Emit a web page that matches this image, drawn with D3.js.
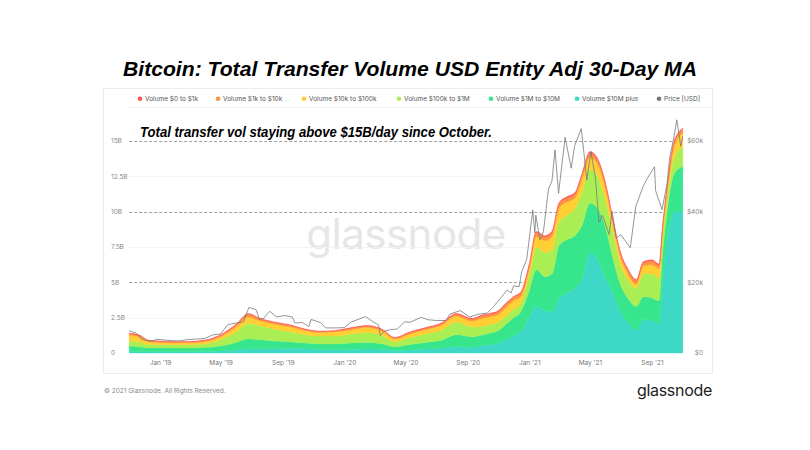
<!DOCTYPE html>
<html>
<head>
<meta charset="utf-8">
<script src="https://cdn.jsdelivr.net/npm/d3@7"></script>
<style>
body { margin: 0; background: #fff; }
text { font-family: Inter, "Noto Sans", sans-serif; }
</style>
</head>
<body>
<svg id="chart" width="810" height="450"></svg>
<script>
// volume data, billions USD (30-day MA)
var dates = ["2018-11-01","2018-11-20","2018-12-10","2019-01-01","2019-02-01","2019-03-01","2019-04-01","2019-05-01","2019-06-01","2019-06-25",
  "2019-07-15","2019-08-15","2019-09-15","2019-10-15","2019-11-15","2019-12-15","2020-01-15","2020-02-15","2020-03-15","2020-04-10",
  "2020-05-10","2020-06-10","2020-07-10","2020-08-10","2020-09-10","2020-10-01","2020-10-15","2020-11-01","2020-11-15","2020-12-01",
  "2020-12-15","2021-01-01","2021-01-15","2021-02-01","2021-02-15","2021-03-01","2021-03-15","2021-04-01","2021-04-15","2021-05-01",
  "2021-05-15","2021-06-01","2021-06-15","2021-07-01","2021-07-15","2021-08-01","2021-08-15","2021-09-01","2021-09-15","2021-09-22",
  "2021-10-01","2021-10-15","2021-11-01"];

var vol10Mplus = [.10,.10,.10,.12,.10,.10,.12,.15,.22,.30, .30,.30,.33,.30,.25,.22,.25,.28,.25,.18,
  .22,.28,.33,.45,.40,.55,.60,.70,.90,1.2, 1.5,2.5,3.3,3.0,2.9,3.9,4.2,4.6,5.2,7.1,
  6.7,5.3,4.3,2.9,2.2,1.6,2.4,2.3,2.1,5.0, 8.0,10.0,10.0];
var vol1Mto10M = [.40,.35,.25,.26,.25,.25,.28,.35,.53,.70, .65,.55,.47,.40,.40,.43,.45,.47,.40,.27,
  .38,.47,.57,.85,.75,.75,.80,.90,1.1,1.3, 1.4,1.9,2.6,2.4,2.7,3.7,3.8,3.7,3.8,3.5,
  3.6,3.6,2.5,1.9,1.7,1.7,1.6,1.6,1.6,2.0, 2.0,2.7,3.2];
var vol100kto1M = [.35,.35,.25,.22,.23,.23,.25,.45,.75,1.10, 1.00,.85,.70,.60,.55,.55,.65,.70,.60,.35,
  .50,.60,.70,.90,.70,.60,.60,.60,.60,.60, .60,1.1,1.6,1.7,1.7,1.7,1.7,1.9,2.3,2.4,
  2.3,1.9,1.8,1.4,1.3,1.3,1.6,1.7,1.6,1.3, 1.0,1.1,1.4];
var vol10kto100k = [.40,.35,.20,.15,.14,.15,.17,.20,.35,.45, .35,.35,.35,.30,.25,.30,.30,.35,.30,.20,
  .25,.30,.35,.40,.40,.55,.55,.52,.60,.60, .48,.45,.75,.85,.95,.95,.95,.75,.95,.85,
  .85,.85,.65,.55,.45,.27,.55,.65,.65,.35, .45,.85,.95];
var vol1kto10k = [.11,.11,.07,.07,.05,.06,.07,.11,.15,.19, .15,.11,.11,.07,.07,.07,.11,.11,.11,.07,
  .11,.11,.11,.15,.15,.19,.19,.22,.24,.24, .26,.27,.27,.27,.28,.30,.30,.30,.30,.32,
  .32,.30,.28,.26,.25,.25,.25,.26,.26,.27, .27,.28,.28];
var vol0to1k = [.04,.04,.03,.03,.03,.03,.03,.04,.05,.06, .05,.04,.04,.03,.03,.03,.04,.04,.04,.03,
  .04,.04,.04,.05,.05,.06,.06,.06,.06,.06, .06,.08,.08,.08,.08,.08,.08,.08,.08,.08,
  .08,.08,.08,.08,.08,.08,.08,.08,.08,.08, .08,.08,.08];

// price [USD]
var priceDates = ["2018-11-01","2018-11-15","2018-11-25","2018-12-15","2018-12-25","2019-01-15","2019-02-07","2019-02-25","2019-03-31","2019-04-15",
  "2019-05-01","2019-05-15","2019-06-01","2019-06-15","2019-06-26","2019-07-10","2019-07-17","2019-07-25","2019-08-06","2019-08-20",
  "2019-09-05","2019-09-20","2019-09-25","2019-10-10","2019-10-23","2019-10-27","2019-11-15","2019-11-25","2019-12-15","2020-01-01",
  "2020-01-15","2020-02-12","2020-02-28","2020-03-09","2020-03-12","2020-03-20","2020-04-01","2020-04-15","2020-04-29","2020-05-10",
  "2020-06-01","2020-06-15","2020-07-01","2020-07-20","2020-07-28","2020-08-17","2020-09-05","2020-09-20","2020-10-10","2020-10-21",
  "2020-11-05","2020-11-18","2020-11-26","2020-12-01","2020-12-12","2020-12-17","2020-12-27","2021-01-08","2021-01-12","2021-01-14",
  "2021-01-22","2021-01-29","2021-02-08","2021-02-15","2021-02-21","2021-02-28","2021-03-13","2021-03-25","2021-04-01","2021-04-14",
  "2021-04-25","2021-05-03","2021-05-12","2021-05-19","2021-05-26","2021-06-08","2021-06-14","2021-06-22","2021-07-01","2021-07-20",
  "2021-07-31","2021-08-14","2021-08-23","2021-09-06","2021-09-08","2021-09-21","2021-10-01","2021-10-06","2021-10-15","2021-10-20",
  "2021-10-28","2021-11-01"];
var priceUsd = [6300,5600,3900,3250,3900,3600,3400,3800,4100,5100,
  5400,8000,8500,8800,12900,12300,9500,9800,11800,10200,
  10600,10200,8500,8600,7500,9500,8600,7100,7100,7200,
  8800,10300,8700,7900,4900,6200,6600,6800,8800,8700,
  10100,9400,9200,9200,11000,12000,10200,10900,11300,12900,
  15500,17800,17000,19000,18800,23000,26500,40500,34000,39000,
  32000,34300,46400,48700,57500,45200,61000,52300,58700,63500,
  49000,57000,49500,37000,39000,33500,40100,32500,33500,29800,
  41500,47000,49500,52700,46000,40600,48100,55300,61500,66000,
  58500,61300];

var seriesNames = ["Volume $0 to $1k","Volume $1k to $10k","Volume $10k to $100k","Volume $100k to $1M","Volume $1M to $10M","Volume $10M plus","Price [USD]"];
var seriesColors = ["#ff5656","#ff9440","#ffcf33","#a9ef53","#36e58c","#3dd9c6","#777777"];
var volTicks = [0, 2.5, 5, 7.5, 10, 12.5, 15];
var volTickLabels = ["0","2.5B","5B","7.5B","10B","12.5B","15B"];
var priceTicks = [0, 20000, 40000, 60000];
var priceTickLabels = ["$0","$20k","$40k","$60k"];

var svg = d3.select("#chart");
var parse = d3.timeParse("%Y-%m-%d");

var rows = dates.map(function(d, i) {
  return { date: parse(d), b5: vol10Mplus[i], b4: vol1Mto10M[i], b3: vol100kto1M[i],
           b2: vol10kto100k[i], b1: vol1kto10k[i], b0: vol0to1k[i] };
});
var prices = priceDates.map(function(d, i) { return { date: parse(d), v: priceUsd[i] }; });

var x = d3.scaleTime()
  .domain([parse("2019-01-01"), parse("2021-09-01")])
  .range([160, 652]);
var y = d3.scaleLinear().domain([0, 15]).range([353, 141]);
var yp = d3.scaleLinear().domain([0, 60000]).range([353, 141]);

var x0 = x(parse("2018-11-01")), x1 = x(parse("2021-11-01"));

// title
svg.append("text")
  .attr("x", 410).attr("y", 76)
  .attr("text-anchor", "middle")
  .attr("textLength", 574).attr("lengthAdjust", "spacingAndGlyphs")
  .style("font-family", "'Liberation Sans', Arial, sans-serif")
  .style("font-size", "21px").style("font-weight", "bold").style("font-style", "italic")
  .style("fill", "#000")
  .text("Bitcoin: Total Transfer Volume USD Entity Adj 30-Day MA");

// panel
svg.append("rect")
  .attr("x", 103.5).attr("y", 88.5).attr("width", 609).attr("height", 285)
  .style("fill", "#fff").style("stroke", "#ececec");

svg.append("line")
  .attr("x1", 127).attr("x2", 712).attr("y1", 107.5).attr("y2", 107.5)
  .style("stroke", "#f2f2f2");

// legend
var legendX = [140, 218, 304, 399, 491, 577, 659];
var legend = svg.append("g").selectAll("g")
  .data(seriesNames)
  .enter().append("g")
  .attr("transform", function(d, i) { return "translate(" + legendX[i] + ",101)"; });
legend.append("circle").attr("r", 2.3).attr("cy", -2.2)
  .style("fill", function(d, i) { return seriesColors[i]; });
legend.append("text").attr("x", 5).attr("y", 0)
  .style("font-size", "6.5px").style("fill", "#555")
  .text(function(d) { return d; });

// watermark
svg.append("text")
  .attr("x", 406).attr("y", 249)
  .attr("text-anchor", "middle")
  .style("font-size", "42px").style("fill", "#e6e6e6").style("letter-spacing", "-0.5px")
  .text("glassnode");

// grid
svg.append("g").selectAll("line")
  .data(volTicks.filter(function(d) { return d > 0; }))
  .enter().append("line")
  .attr("x1", x0).attr("x2", x1)
  .attr("y1", function(d) { return Math.round(y(d)) + 0.5; })
  .attr("y2", function(d) { return Math.round(y(d)) + 0.5; })
  .style("stroke", function(d) { return d % 5 === 0 ? "#888" : "#f1f1f1"; })
  .style("stroke-dasharray", function(d) { return d % 5 === 0 ? "3,2" : null; })
  .style("stroke-width", 0.8);

// stacked areas
var keys = ["b5","b4","b3","b2","b1","b0"];
var colorByKey = { b0: seriesColors[0], b1: seriesColors[1], b2: seriesColors[2], b3: seriesColors[3], b4: seriesColors[4], b5: seriesColors[5] };
var stacked = d3.stack().keys(keys)(rows);

var area = d3.area()
  .curve(d3.curveMonotoneX)
  .x(function(d) { return x(d.data.date); })
  .y0(function(d) { return y(d[0]); })
  .y1(function(d) { return y(d[1]); });

svg.append("g").selectAll("path")
  .data(stacked)
  .enter().append("path")
  .attr("d", area)
  .style("fill", function(d) { return colorByKey[d.key]; })
  .style("stroke", function(d) { return colorByKey[d.key]; })
  .style("stroke-width", 0.4);

// price line
var line = d3.line()
  .x(function(d) { return x(d.date); })
  .y(function(d) { return yp(d.v); });

svg.append("path")
  .datum(prices)
  .attr("d", line)
  .style("fill", "none")
  .style("stroke", "#7a7a7a")
  .style("stroke-width", 0.8);

// left axis labels
svg.append("g").selectAll("text")
  .data(volTicks)
  .enter().append("text")
  .attr("x", 111)
  .attr("y", function(d) { return y(d) + 2.2; })
  .style("font-size", "6.5px").style("fill", "#888")
  .text(function(d, i) { return volTickLabels[i]; });

// right axis labels
svg.append("g").selectAll("text")
  .data(priceTicks)
  .enter().append("text")
  .attr("x", 703).attr("text-anchor", "end")
  .attr("y", function(d) { return yp(d) + 2.2; })
  .style("font-size", "6.5px").style("fill", "#888")
  .text(function(d, i) { return priceTickLabels[i]; });

// x axis
var xAxis = d3.axisBottom(x)
  .ticks(d3.timeMonth.filter(function(d) { return d.getMonth() % 4 === 0; }))
  .tickFormat(d3.timeFormat("%b '%y"))
  .tickSize(0).tickPadding(0);

var gx = svg.append("g").attr("transform", "translate(0,360)").call(xAxis);
gx.select(".domain").remove();
gx.selectAll("text")
  .style("font-family", "Inter, 'Noto Sans', sans-serif")
  .style("font-size", "6.5px").style("fill", "#777");

// annotation
svg.append("text")
  .attr("x", 140).attr("y", 137)
  .attr("textLength", 352).attr("lengthAdjust", "spacingAndGlyphs")
  .style("font-family", "'Liberation Sans', Arial, sans-serif")
  .style("font-size", "14px").style("font-weight", "bold").style("font-style", "italic")
  .style("fill", "#000")
  .text("Total transfer vol staying above $15B/day since October.");

// footer
svg.append("text")
  .attr("x", 104).attr("y", 393)
  .style("font-size", "6.5px").style("fill", "#888")
  .text("© 2021 Glassnode. All Rights Reserved.");

svg.append("text")
  .attr("x", 712).attr("y", 396).attr("text-anchor", "end")
  .style("font-size", "16px").style("fill", "#222").style("letter-spacing", "-0.3px")
  .text("glassnode");
</script>
</body>
</html>
